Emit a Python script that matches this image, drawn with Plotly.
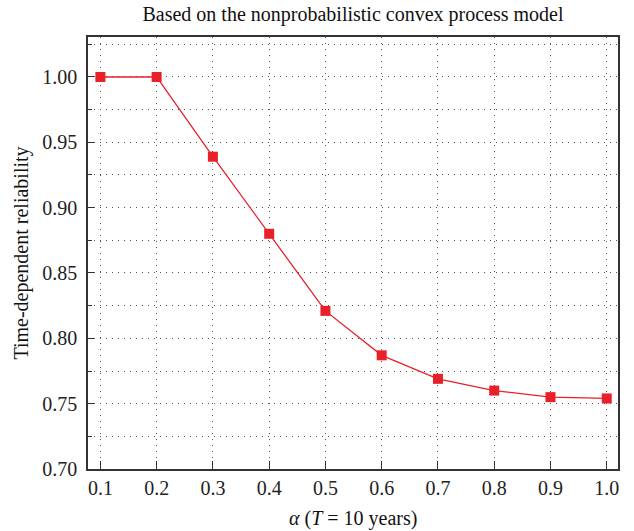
import plotly.graph_objects as go

alpha = [0.1, 0.2, 0.3, 0.4, 0.5, 0.6, 0.7, 0.8, 0.9, 1.0]
reliability = [1.000, 1.000, 0.939, 0.880, 0.821, 0.787, 0.769, 0.760, 0.755, 0.754]
x_ticks = [0.1, 0.2, 0.3, 0.4, 0.5, 0.6, 0.7, 0.8, 0.9, 1.0]
x_tick_labels = ["0.1", "0.2", "0.3", "0.4", "0.5", "0.6", "0.7", "0.8", "0.9", "1.0"]
y_ticks = [0.70, 0.75, 0.80, 0.85, 0.90, 0.95, 1.00]
y_tick_labels = ["0.70", "0.75", "0.80", "0.85", "0.90", "0.95", "1.00"]

RED = "#e8202a"
FONT = "Liberation Serif"
FS = 20

fig = go.Figure()
fig.add_trace(go.Scatter(
    x=alpha, y=reliability, mode="lines+markers",
    line=dict(color=RED, width=1.3),
    marker=dict(symbol="square", size=10, color=RED),
    showlegend=False,
))

grid_dash = "1px,5px"
fig.update_layout(
    width=634, height=531,
    margin=dict(l=88, r=16, t=37, b=62, autoexpand=False),
    paper_bgcolor="white", plot_bgcolor="white",
    font=dict(family=FONT, size=FS, color="#222"),
    title=dict(text="Based on the nonprobabilistic convex process model",
               x=0.5, xref="paper", xanchor="center",
               yref="container", y=1 - 14 / 531, yanchor="middle", pad=dict(t=0, b=0),
               font=dict(family=FONT, size=FS, color="#111")),
    xaxis=dict(
        range=[0.078, 1.02], tickvals=x_ticks, ticktext=x_tick_labels,
        showline=True, linecolor="#333", linewidth=1.5, mirror=True,
        ticks="inside", ticklen=8, tickcolor="#333",
        showgrid=True, gridcolor="#555", gridwidth=1, griddash=grid_dash,
        zeroline=False, automargin=False,
        tickfont=dict(family=FONT, size=FS, color="#222"),
    ),
    yaxis=dict(
        range=[0.70, 1.0306], tickvals=y_ticks, ticktext=y_tick_labels,
        showline=True, linecolor="#333", linewidth=1.5, mirror=True,
        ticks="inside", ticklen=6, tickcolor="#333",
        ticklabelstandoff=5,
        showgrid=True, gridcolor="#555", gridwidth=1, griddash=grid_dash,
        minor=dict(dtick=0.025, tick0=0.70, showgrid=True, gridcolor="#555",
                   griddash=grid_dash, ticks="inside", ticklen=4, tickcolor="#333"),
        zeroline=False, automargin=False,
        title=dict(text="Time-dependent reliability", standoff=8,
                   font=dict(family=FONT, size=FS, color="#111")),
        tickfont=dict(family=FONT, size=FS, color="#222"),
    ),
    annotations=[dict(
        text="<i>α</i> (<i>T</i> = 10 years)", xref="paper", yref="paper",
        x=0.5, y=0, xanchor="center", yanchor="middle", yshift=-49,
        showarrow=False, font=dict(family=FONT, size=FS, color="#111"),
    )],
)

fig.write_html("out.html", config={"displayModeBar": False},
               post_script="document.body.style.margin='0';")
